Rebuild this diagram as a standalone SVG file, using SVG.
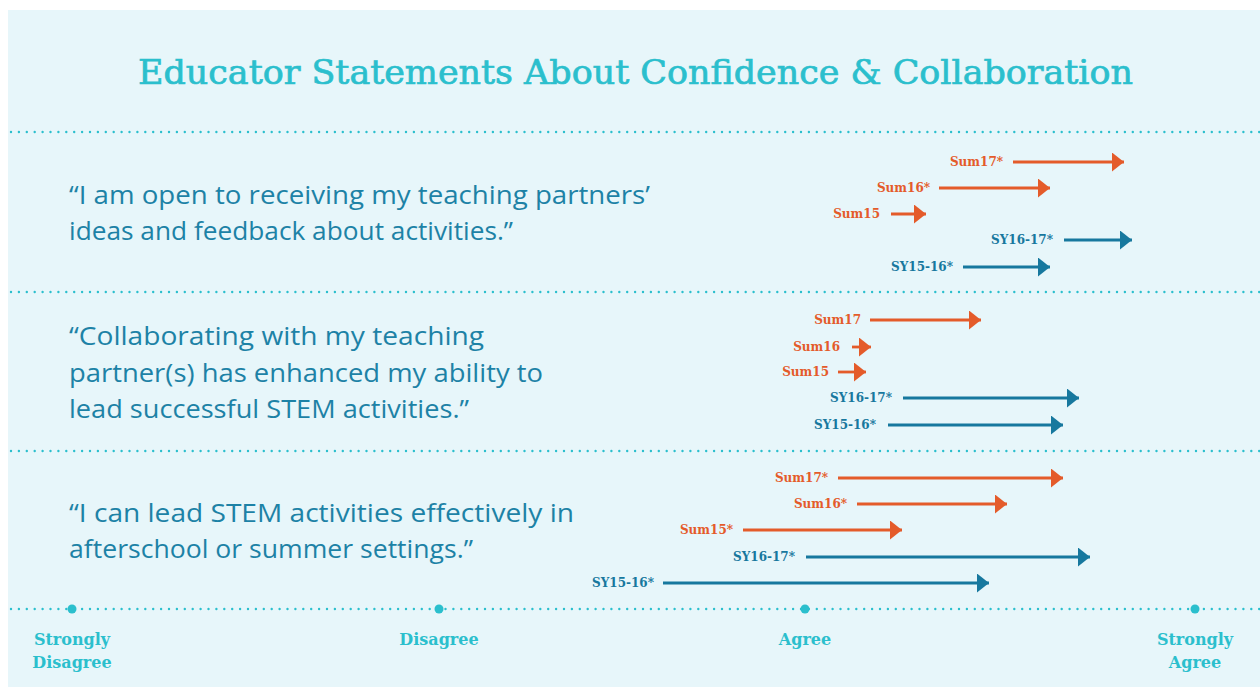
<svg xmlns="http://www.w3.org/2000/svg" width="1260" height="687" viewBox="0 0 1260 687">
<defs>
<style>
.title{font-family:"DejaVu Serif",serif;font-size:33px;fill:#2bbfcd;stroke:#2bbfcd;stroke-width:0.7;}
.stmt{font-family:"Open Sans","Liberation Sans",sans-serif;font-size:25px;fill:#1d82a6;}
.ax{font-family:"DejaVu Serif",serif;font-weight:bold;font-size:16px;fill:#2bbfcd;text-anchor:middle;}
.lbl{font-family:"DejaVu Serif",serif;font-weight:bold;font-size:12px;text-anchor:end;}
.o{fill:#e45b2a;}
.b{fill:#17789e;}
.lo{stroke:#e45b2a;stroke-width:2.8;fill:none;}
.lb{stroke:#17789e;stroke-width:2.8;fill:none;}
.dot{stroke:#2bbfcd;stroke-width:2.4;stroke-linecap:round;stroke-dasharray:0 7.9;fill:none;}
</style>
<marker id="ho" viewBox="0 0 12 19" refX="12" refY="9.5" markerWidth="12" markerHeight="19" markerUnits="userSpaceOnUse" orient="auto"><path d="M0,0 L12,9.5 L0,19 Z" fill="#e45b2a"/></marker>
<marker id="hb" viewBox="0 0 12 19" refX="12" refY="9.5" markerWidth="12" markerHeight="19" markerUnits="userSpaceOnUse" orient="auto"><path d="M0,0 L12,9.5 L0,19 Z" fill="#17789e"/></marker>
</defs>
<rect x="0" y="0" width="1260" height="687" fill="#ffffff"/>
<rect x="8" y="10" width="1252" height="677" fill="#e7f6fa"/>
<text class="title" x="138" y="84" textLength="995" lengthAdjust="spacingAndGlyphs">Educator Statements About Confidence &amp; Collaboration</text>
<g id="gridlines">
<line class="dot" x1="11" y1="132" x2="1260" y2="132"/>
<line class="dot" x1="11" y1="292" x2="1260" y2="292"/>
<line class="dot" x1="11" y1="451" x2="1260" y2="451"/>
<line class="dot" x1="11" y1="609" x2="1260" y2="609"/>
</g>
<g id="axis">
<circle cx="72" cy="609" r="4.5" fill="#2bbfcd"/>
<circle cx="439" cy="609" r="4.5" fill="#2bbfcd"/>
<circle cx="805" cy="609" r="4.5" fill="#2bbfcd"/>
<circle cx="1195" cy="609" r="4.5" fill="#2bbfcd"/>
<text class="ax" x="72" y="645">Strongly</text>
<text class="ax" x="72" y="668">Disagree</text>
<text class="ax" x="439" y="645">Disagree</text>
<text class="ax" x="805" y="645">Agree</text>
<text class="ax" x="1195" y="645">Strongly</text>
<text class="ax" x="1195" y="668">Agree</text>
</g>
<g id="statement1">
<text class="stmt" x="69" y="204" textLength="581" lengthAdjust="spacingAndGlyphs">“I am open to receiving my teaching partners’</text>
<text class="stmt" x="69" y="240" textLength="444" lengthAdjust="spacingAndGlyphs">ideas and feedback about activities.”</text>
</g>
<g id="statement2">
<text class="stmt" x="69" y="345" textLength="415" lengthAdjust="spacingAndGlyphs">“Collaborating with my teaching</text>
<text class="stmt" x="69" y="382" textLength="474" lengthAdjust="spacingAndGlyphs">partner(s) has enhanced my ability to</text>
<text class="stmt" x="69" y="418" textLength="400" lengthAdjust="spacingAndGlyphs">lead successful STEM activities.”</text>
</g>
<g id="statement3">
<text class="stmt" x="69" y="522" textLength="505" lengthAdjust="spacingAndGlyphs">“I can lead STEM activities effectively in</text>
<text class="stmt" x="69" y="558" textLength="404" lengthAdjust="spacingAndGlyphs">afterschool or summer settings.”</text>
</g>
<g id="labels">
<text class="lbl o" x="1003" y="166">Sum17*</text>
<text class="lbl o" x="930" y="192">Sum16*</text>
<text class="lbl o" x="880" y="218">Sum15</text>
<text class="lbl b" x="1053" y="244">SY16-17*</text>
<text class="lbl b" x="953" y="271">SY15-16*</text>
<text class="lbl o" x="861" y="324">Sum17</text>
<text class="lbl o" x="840" y="351">Sum16</text>
<text class="lbl o" x="829" y="376">Sum15</text>
<text class="lbl b" x="892" y="402">SY16-17*</text>
<text class="lbl b" x="876" y="429">SY15-16*</text>
<text class="lbl o" x="828" y="482">Sum17*</text>
<text class="lbl o" x="847" y="508">Sum16*</text>
<text class="lbl o" x="733" y="534">Sum15*</text>
<text class="lbl b" x="795" y="561">SY16-17*</text>
<text class="lbl b" x="654" y="587">SY15-16*</text>
</g>
<g id="connectors">
<line class="lo" x1="1013" y1="162" x2="1124" y2="162" marker-end="url(#ho)"/>
<line class="lo" x1="939" y1="188" x2="1050" y2="188" marker-end="url(#ho)"/>
<line class="lo" x1="891" y1="214" x2="926" y2="214" marker-end="url(#ho)"/>
<line class="lb" x1="1064" y1="240" x2="1132" y2="240" marker-end="url(#hb)"/>
<line class="lb" x1="963" y1="267" x2="1050" y2="267" marker-end="url(#hb)"/>
<line class="lo" x1="870" y1="320" x2="981" y2="320" marker-end="url(#ho)"/>
<line class="lo" x1="852" y1="347" x2="871" y2="347" marker-end="url(#ho)"/>
<line class="lo" x1="838" y1="372" x2="866" y2="372" marker-end="url(#ho)"/>
<line class="lb" x1="903" y1="398" x2="1079" y2="398" marker-end="url(#hb)"/>
<line class="lb" x1="888" y1="425" x2="1063" y2="425" marker-end="url(#hb)"/>
<line class="lo" x1="838" y1="478" x2="1063" y2="478" marker-end="url(#ho)"/>
<line class="lo" x1="857" y1="504" x2="1007" y2="504" marker-end="url(#ho)"/>
<line class="lo" x1="743" y1="530" x2="902" y2="530" marker-end="url(#ho)"/>
<line class="lb" x1="806" y1="557" x2="1090" y2="557" marker-end="url(#hb)"/>
<line class="lb" x1="663" y1="583" x2="989" y2="583" marker-end="url(#hb)"/>
</g>
</svg>
